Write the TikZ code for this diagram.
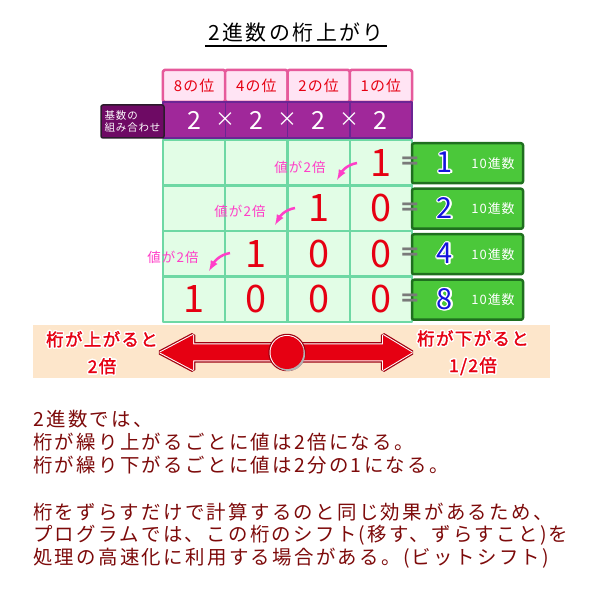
\documentclass[tikz,border=0pt]{standalone}
\usepackage{fontspec}
\setmainfont{Noto Sans CJK JP}
\newfontfamily\jpfont[LetterSpace=8]{Noto Sans CJK JP}
\newfontfamily\bandfont[LetterSpace=8,FakeBold=1.8]{Noto Sans CJK JP}
\newfontfamily\notefont[LetterSpace=12]{Noto Sans CJK JP}
\newfontfamily\eqfont{DejaVu Sans}
\usepackage{contour}
\contournumber{12}
\definecolor{headpink}{HTML}{E65A9B}
\definecolor{headfill}{HTML}{FFE4F4}
\definecolor{basefill}{HTML}{A0289A}
\definecolor{basedraw}{HTML}{6B2594}
\definecolor{labelfill}{HTML}{6E0A64}
\definecolor{labeldraw}{HTML}{2B1B2B}
\definecolor{gridfill}{HTML}{E2FDE6}
\definecolor{griddraw}{HTML}{6ED8A4}
\definecolor{decfill}{HTML}{4BC83A}
\definecolor{decdraw}{HTML}{1F6F1F}
\definecolor{bandfill}{HTML}{FDE6CB}
\definecolor{digitred}{HTML}{E60012}
\definecolor{arrowdark}{HTML}{9E0010}
\definecolor{notered}{HTML}{7D0A0A}
\definecolor{twicepink}{HTML}{FF3FC8}
\definecolor{decblue}{HTML}{1414DC}
\definecolor{eqgray}{HTML}{7A7A7A}
\begin{document}
\begin{tikzpicture}[>=latex,line join=bevel,
  headcell/.style={draw=headpink,fill=headfill,line width=2.5bp,rounded corners=1.5bp,minimum width=62.25bp,minimum height=32bp,inner sep=0pt,text=digitred,font=\jpfont\fontsize{15}{15}\selectfont},
  basebar/.style={draw=basedraw,fill=basefill,line width=2.5bp,minimum width=249bp,minimum height=36bp,inner sep=0pt},
  basetext/.style={text=white,inner sep=0pt,font=\fontsize{25}{25}\selectfont},
  timestext/.style={text=white,inner sep=0pt,font=\fontsize{20}{20}\selectfont},
  basediv/.style={draw=basedraw,line width=1.5bp},
  baselabel/.style={draw=labeldraw,fill=labelfill,line width=1.5bp,rounded corners=2bp,minimum width=63bp,minimum height=33bp,inner sep=1bp,text=white,align=left,font=\jpfont\fontsize{10.5}{12}\selectfont},
  gridcell/.style={draw=griddraw,fill=gridfill,line width=2.5bp,minimum width=62.25bp,minimum height=45.5bp,inner sep=0pt},
  bigdigit/.style={text=digitred,inner sep=0pt,font=\fontsize{38}{38}\selectfont},
  decbox/.style={draw=decdraw,fill=decfill,line width=2.5bp,rounded corners=2bp,minimum width=111bp,minimum height=40bp,inner sep=0pt},
  decdigit/.style={text=decblue,inner sep=0pt,font=\fontsize{29}{29}\selectfont\contourlength{1.2bp}},
  declabel/.style={text=white,inner sep=0pt,font=\jpfont\fontsize{13}{13}\selectfont},
  eqsign/.style={text=eqgray,inner sep=0pt,font=\eqfont\bfseries\fontsize{24}{24}\selectfont},
  twicelabel/.style={text=twicepink,inner sep=0pt,font=\jpfont\fontsize{13.5}{13.5}\selectfont},
  twicearrow/.style={draw=twicepink,line width=2.5bp,->},
  bandlabel/.style={text=digitred,align=center,inner sep=0pt,font=\bandfont\fontsize{17.5}{27}\selectfont\contourlength{1.5bp}},
  notetext/.style={anchor=west,text=notered,inner sep=0pt,font=\notefont\fontsize{19.5}{23}\selectfont},
  twoway/.style={fill=digitred,preaction={draw=arrowdark,line width=4.5bp},preaction={draw=white,line width=2bp}},
]
\fill[white] (0bp,0bp) rectangle (600bp,596bp);
\useasboundingbox (0bp,0bp) rectangle (600bp,596bp);
%% title
\node (title) at (296bp,563bp) [inner sep=0pt,font=\notefont\fontsize{21}{21}\selectfont] {2進数の桁上がり};
  \draw [line width=1.5bp] (205bp,550bp) -- (387bp,550bp);
%% places and base
\foreach \col/\lab in {0/8,1/4,2/2,3/1}
  \node (head_\col) at ({(194.125+62.25*\col)*1bp},510bp) [headcell] {\lab の位};
\node (base_bar) at (287.5bp,476bp) [basebar] {};
\foreach \col in {1,2,3}
  \draw [basediv] ({(163+62.25*\col)*1bp},494bp) -- ({(163+62.25*\col)*1bp},458bp);
\foreach \col in {0,...,3}
  \node (base_\col) at ({(194.125+62.25*\col)*1bp},476bp) [basetext] {2};
\foreach \col in {1,2,3}
  \node (times_\col) at ({(163+62.25*\col)*1bp},476bp) [timestext] {×};
\node (base_label) at (132.5bp,474.5bp) [baselabel] {基数の\\組み合わせ};
%% digits
\foreach \row in {0,...,3}
  \foreach \col in {0,...,3}
    \node (cell_\row\col) at ({(194.125+62.25*\col)*1bp},{(433.25-45.5*\row)*1bp}) [gridcell] {};
\node (d_03) at (cell_03) [bigdigit] {1};
  \node (d_12) at (cell_12) [bigdigit] {1};
  \node (d_13) at (cell_13) [bigdigit] {0};
  \node (d_21) at (cell_21) [bigdigit] {1};
  \node (d_22) at (cell_22) [bigdigit] {0};
  \node (d_23) at (cell_23) [bigdigit] {0};
  \node (d_30) at (cell_30) [bigdigit] {1};
  \node (d_31) at (cell_31) [bigdigit] {0};
  \node (d_32) at (cell_32) [bigdigit] {0};
  \node (d_33) at (cell_33) [bigdigit] {0};
%% decimal values
\foreach \row/\val in {0/1,1/2,2/4,3/8} {
  \node (dec_\row) at (467.5bp,{(432.75-45.5*\row)*1bp}) [decbox] {};
  \node (eq_\row) at (410bp,{(433.25-45.5*\row)*1bp}) [eqsign] {=};
  \node (val_\row) at (445bp,{(432.75-45.5*\row)*1bp}) [decdigit] {\contour{white}{\val}};
  \node (ten_\row) at (493bp,{(432.75-45.5*\row)*1bp}) [declabel] {10進数};
}
%% doubling notes
\node (twice_0) at (300bp,429bp) [twicelabel] {値が2倍};
  \node (twice_1) at (240bp,385bp) [twicelabel] {値が2倍};
  \node (twice_2) at (173bp,339bp) [twicelabel] {値が2倍};
  \coordinate (tw_0s) at (357bp,433bp);
  \coordinate (tw_0e) at (337bp,416bp);
  \coordinate (tw_1s) at (295bp,388bp);
  \coordinate (tw_1e) at (275bp,371bp);
  \coordinate (tw_2s) at (230bp,343bp);
  \coordinate (tw_2e) at (209bp,325bp);
  \draw [twicearrow] (tw_0s) to[out=190,in=60] (tw_0e);
  \draw [twicearrow] (tw_1s) to[out=190,in=60] (tw_1e);
  \draw [twicearrow] (tw_2s) to[out=190,in=60] (tw_2e);
%% shift band
\fill [bandfill] (33bp,218bp) rectangle (550bp,271bp);
\node (up_label) at (102bp,242.5bp) [bandlabel] {\contour{white}{桁が上がると}\\\contour{white}{2倍}};
  \node (down_label) at (473bp,242.5bp) [bandlabel] {\contour{white}{桁が下がると}\\\contour{white}{1/2倍}};
  \path [twoway] (160bp,243.5bp) -- (193bp,261bp) -- (193bp,251.5bp) -- (383bp,251.5bp) -- (383bp,261bp)
    -- (412bp,243.5bp) -- (383bp,226bp) -- (383bp,235.5bp) -- (193bp,235.5bp) -- (193bp,226bp) -- cycle;
  \node (center) at (287bp,243.5bp) [circle,minimum size=33bp,inner sep=0pt,twoway,
    preaction={fill=black!30,transform canvas={shift={(1.5bp,-2bp)}}}] {};
%% notes
\node (note_0) at (33bp,177bp) [notetext] {2進数では、};
  \node (note_1) at (33bp,154bp) [notetext] {桁が繰り上がるごとに値は2倍になる。};
  \node (note_2) at (33bp,131bp) [notetext] {桁が繰り下がるごとに値は2分の1になる。};
  \node (note_3) at (33bp,84bp) [notetext] {桁をずらすだけで計算するのと同じ効果があるため、};
  \node (note_4) at (33bp,61bp) [notetext] {プログラムでは、この桁のシフト(移す、ずらすこと)を};
  \node (note_5) at (33bp,38bp) [notetext] {処理の高速化に利用する場合がある。(ビットシフト)};
%
\end{tikzpicture}
\end{document}
